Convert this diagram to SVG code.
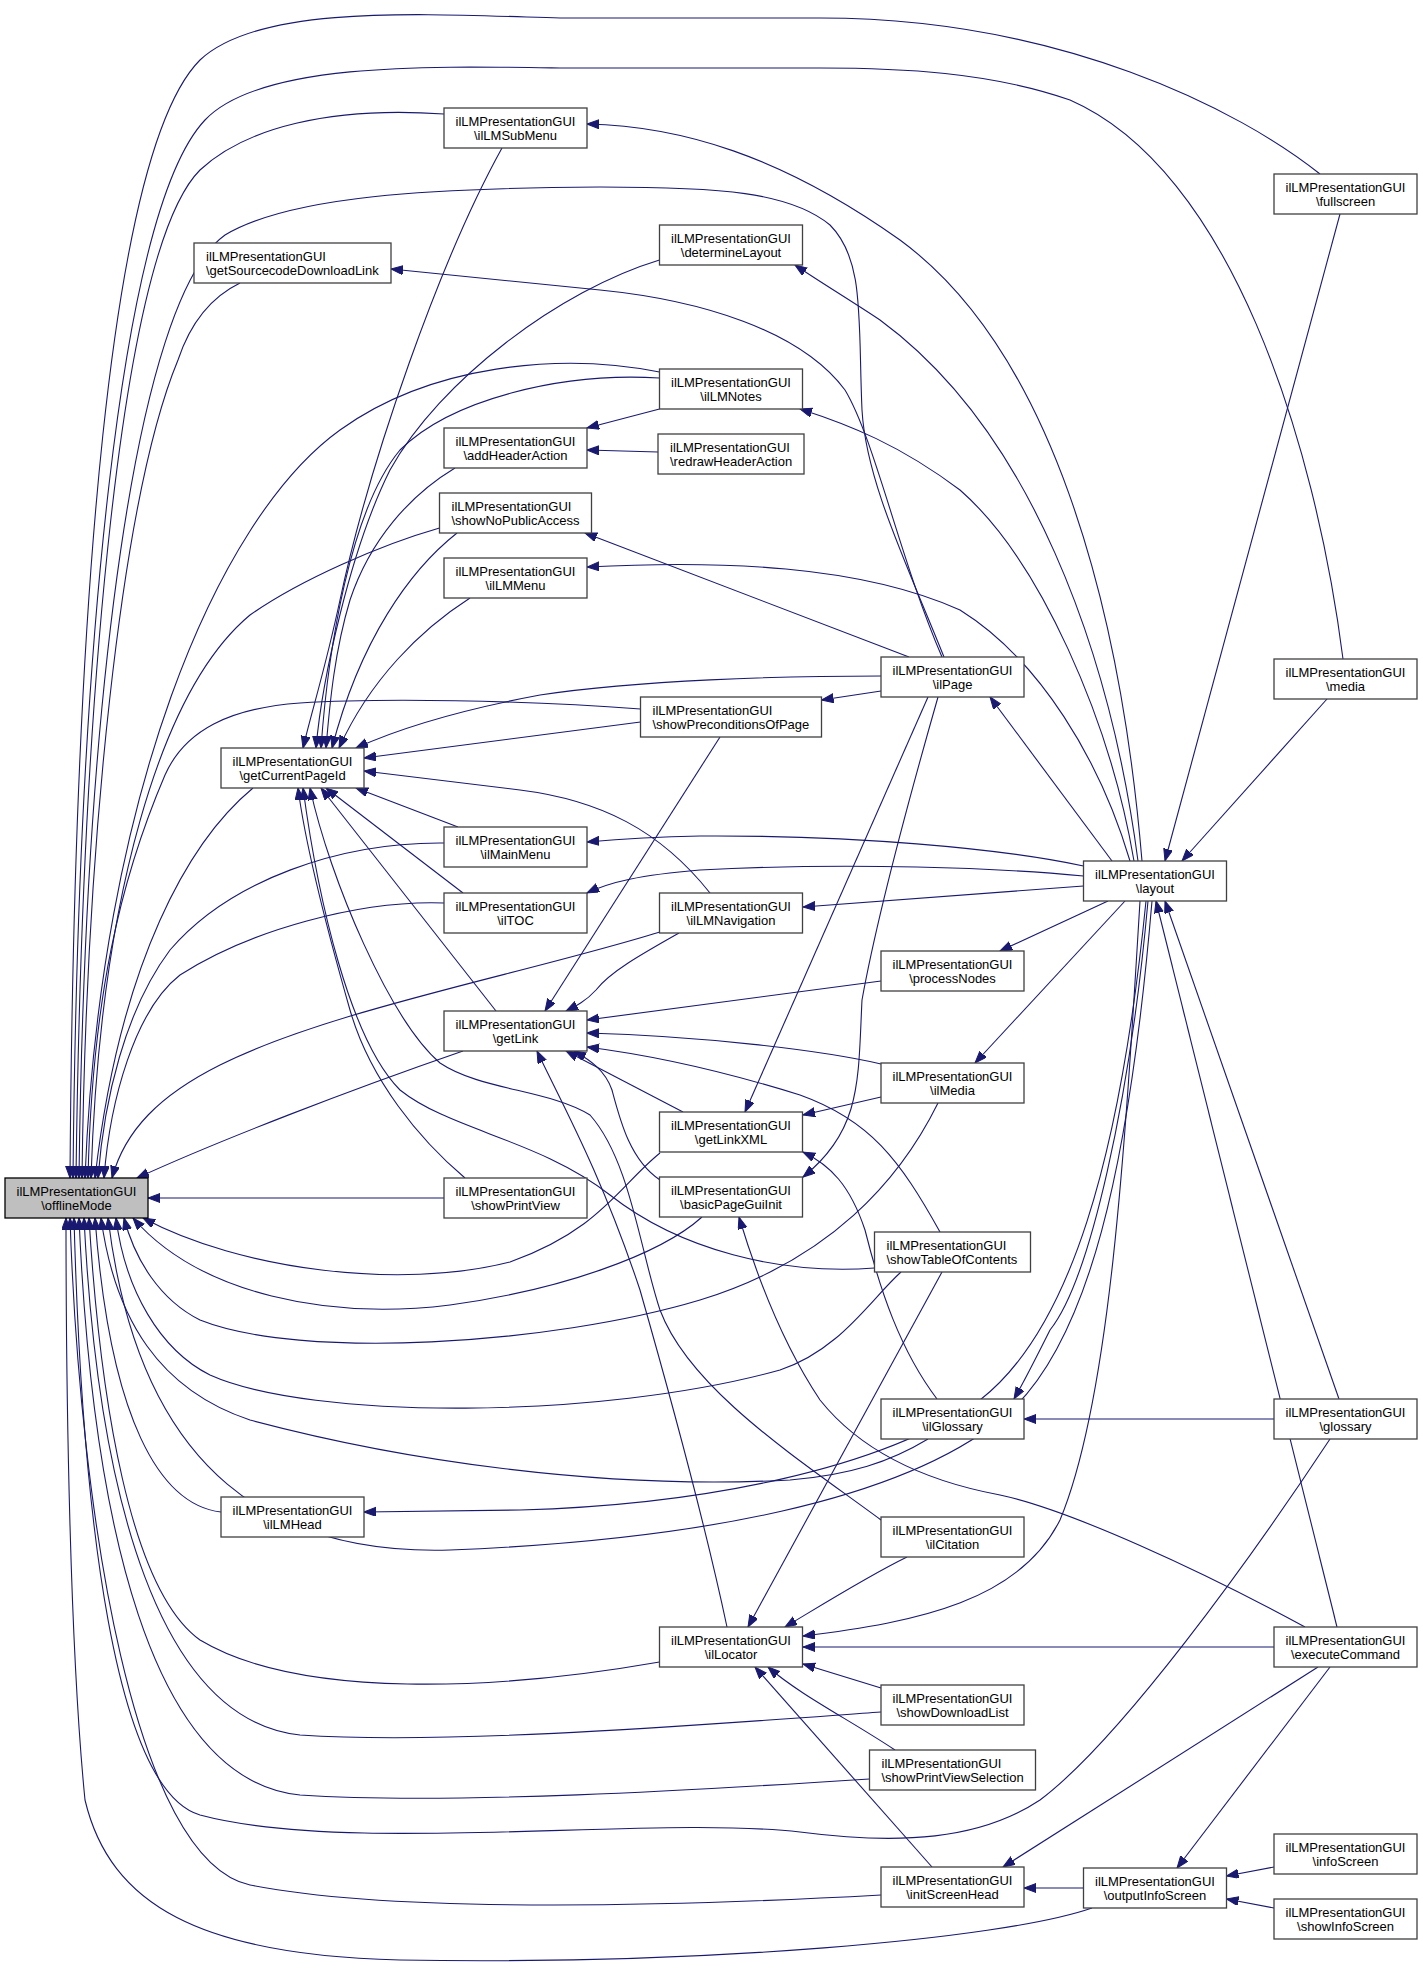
<svg xmlns="http://www.w3.org/2000/svg" width="1423" height="1970" viewBox="0 0 1423 1970">
<defs>
<style>
.n rect{fill:#fff;stroke:#404040;stroke-width:1.3}
.root rect{fill:#bfbfbf;stroke:#000;stroke-width:1.3}
.n text{font-family:"Liberation Sans",Arial,Helvetica,sans-serif;font-size:13px;fill:#000}
.c text{text-anchor:middle}
.e path{fill:none;stroke:#191970;stroke-width:1.1;marker-end:url(#ah)}
</style>
<marker id="ah" markerUnits="userSpaceOnUse" markerWidth="13" markerHeight="10" refX="12" refY="4.5" orient="auto">
<path d="M0,0 L12,4.5 L0,9 z" fill="#191970" stroke="#191970" stroke-width="1"/>
</marker>
</defs>
<rect x="0" y="0" width="1423" height="1970" fill="#fff"/>
<g id="edges" class="e">
<path d="M1320,174 C1240,110 1060,18 820,18 L560,18 C420,14 260,4 200,60 C110,150 74,600 70,1178"/>
<path d="M1343,659 C1315,440 1230,170 1070,100 C990,72 900,68 820,68 L560,68 C430,66 260,62 205,120 C120,210 78,650 73,1178"/>
<path d="M444,114 C330,106 245,128 200,170 C120,250 82,700 76,1178"/>
<path d="M944,657 C905,560 866,480 862,410 C858,320 865,260 830,225 C790,192 720,187 600,187 C430,188 290,196 225,235 C135,300 85,700 79,1178"/>
<path d="M240,283 C205,300 188,330 178,360 C120,500 86,850 82,1178"/>
<path d="M659.5,372 C560,352 430,365 340,430 C215,520 100,800 85,1178"/>
<path d="M640.5,709 C520,700 380,698 300,703 C230,708 185,730 165,775 C120,880 92,1000 88,1178"/>
<path d="M253,788 C190,840 120,960 95,1178"/>
<path d="M439.5,528 C380,545 300,580 250,615 C160,690 100,900 91,1178"/>
<path d="M444,843 C340,842 230,880 170,950 C125,1010 104,1100 98,1178"/>
<path d="M444,903 C360,900 250,930 180,975 C135,1010 110,1100 104,1178"/>
<path d="M660,932 C520,975 330,1010 220,1065 C160,1095 125,1130 112,1178"/>
<path d="M463,1051 C350,1090 220,1140 137,1178"/>
<path d="M444,1198 L148,1198"/>
<path d="M660,1153 C620,1185 600,1230 510,1262 C400,1290 240,1270 143,1218"/>
<path d="M702,1217 C660,1255 560,1290 450,1305 C330,1320 200,1295 133,1218"/>
<path d="M938,1103 C900,1180 830,1260 700,1300 C550,1345 300,1360 200,1320 C160,1300 135,1260 124,1218"/>
<path d="M901,1272 C870,1300 840,1350 780,1370 C600,1420 310,1420 210,1375 C160,1350 125,1290 116,1218"/>
<path d="M1152,901 C1130,1160 1090,1350 1000,1420 C900,1500 700,1540 450,1550 C280,1555 140,1480 108,1218"/>
<path d="M928,1439 C890,1462 850,1475 790,1480 C600,1490 400,1460 250,1420 C160,1390 115,1320 101,1218"/>
<path d="M221,1512 C160,1505 110,1420 95,1218"/>
<path d="M659.5,1662 C500,1690 300,1700 200,1640 C130,1590 100,1400 89,1218"/>
<path d="M881,1712 C700,1725 450,1745 300,1735 C160,1720 98,1500 84,1218"/>
<path d="M869.5,1779 C700,1790 450,1805 300,1795 C150,1780 92,1520 79,1218"/>
<path d="M1330,1439 C1250,1560 1120,1740 1040,1800 C980,1840 900,1845 800,1832 C650,1815 350,1855 200,1815 C115,1790 82,1520 74,1218"/>
<path d="M881,1895 C700,1905 400,1915 250,1885 C135,1860 80,1520 70,1218"/>
<path d="M1092,1908 C1000,1940 700,1965 400,1960 C200,1955 110,1905 85,1800 C70,1650 66,1400 66,1218"/>
<path d="M502,148 C440,260 370,460 340,600 C325,670 312,710 303,748"/>
<path d="M659.5,260 C560,290 440,380 390,470 C350,550 322,680 316,748"/>
<path d="M659.5,378 C560,372 450,400 400,450 C350,510 328,650 321,748"/>
<path d="M455,468 C410,495 370,540 350,600 C335,650 330,700 326,748"/>
<path d="M457,533 C410,570 360,640 332,748"/>
<path d="M470,598 C420,630 370,680 339,748"/>
<path d="M881,676 C780,676 640,680 540,695 C460,710 400,728 356,748"/>
<path d="M640.5,722 L364,758"/>
<path d="M710,893 C660,830 600,800 520,790 C450,781 400,775 364,771"/>
<path d="M458,827 L356,788"/>
<path d="M463,893 L326,788"/>
<path d="M496,1011 L321,788"/>
<path d="M465,1178 C420,1140 370,1080 350,1010 C330,940 306,850 298,788"/>
<path d="M874.5,1268 C780,1275 680,1250 610,1195 C540,1140 450,1130 400,1090 C350,1040 318,900 303,788"/>
<path d="M881,1520 C800,1460 690,1390 660,1310 C640,1250 630,1160 590,1115 C550,1090 480,1090 440,1063 C390,1020 330,880 310,788"/>
<path d="M720,737 L545,1011"/>
<path d="M679,933 C640,955 610,972 596,990 C586,1001 576,1006 566,1011"/>
<path d="M881,981 L587,1020"/>
<path d="M881,1064 C820,1050 700,1036 587,1033"/>
<path d="M940,1232 C900,1160 870,1120 800,1095 C720,1070 650,1055 587,1047"/>
<path d="M683,1112 L566,1051"/>
<path d="M660,1180 C630,1160 620,1120 612,1090 C605,1070 590,1060 574,1051"/>
<path d="M727,1627 C700,1500 660,1360 640,1290 C600,1170 560,1100 537,1051"/>
<path d="M928,697 L745,1112"/>
<path d="M881,1097 L803,1115"/>
<path d="M937,1399 C900,1350 880,1290 865,1230 C850,1185 830,1165 803,1152"/>
<path d="M938,697 C920,760 880,900 862,1000 C858,1080 862,1130 803,1177"/>
<path d="M1305,1627 C1200,1570 1070,1510 1000,1495 C920,1480 860,1450 820,1400 C780,1340 755,1270 739,1217"/>
<path d="M942,1272 L748,1627"/>
<path d="M907,1557 C870,1575 830,1600 785,1627"/>
<path d="M1140,901 C1125,1150 1110,1400 1060,1520 C1020,1600 920,1622 803,1636"/>
<path d="M1274,1647 L803,1647"/>
<path d="M881,1688 L803,1664"/>
<path d="M932,1867 L755,1667"/>
<path d="M895,1750 C850,1720 800,1695 768,1667"/>
<path d="M1318,1667 L1003,1867"/>
<path d="M1083.5,1888 L1024,1888"/>
<path d="M1330,1667 L1177,1868"/>
<path d="M1274,1867 L1226.5,1876"/>
<path d="M1274,1908 L1226.5,1899"/>
<path d="M1340,214 L1165,861"/>
<path d="M1327,699 L1182,861"/>
<path d="M1339,1399 L1165,901"/>
<path d="M1337,1627 L1156,901"/>
<path d="M1142,861 C1120,600 1050,350 900,240 C780,155 680,126 587,124"/>
<path d="M1138,861 C1110,650 1030,430 880,320 C850,300 820,282 795,265"/>
<path d="M1134,861 C1110,720 1040,560 960,490 C900,445 850,425 800,409"/>
<path d="M1130,861 C1100,760 1040,660 960,610 C860,565 720,560 587,567"/>
<path d="M1112,861 L990,697"/>
<path d="M1083.5,866 C1000,848 850,835 700,836 C650,837 610,840 587,842"/>
<path d="M1083.5,876 C1000,868 850,862 700,870 C640,875 610,882 587,893"/>
<path d="M1083.5,886 L803,907"/>
<path d="M1108,901 L1000,951"/>
<path d="M1125,901 L975,1063"/>
<path d="M1148,901 C1130,1100 1090,1280 1050,1330 C1035,1360 1025,1380 1014,1399"/>
<path d="M1146,901 C1120,1160 1070,1330 980,1400 C880,1470 700,1505 520,1510 L364,1512"/>
<path d="M659.5,409 L587,428"/>
<path d="M658,452 L587,450"/>
<path d="M942,657 C900,560 875,440 845,390 C800,330 700,300 600,290 C520,282 450,275 391,269"/>
<path d="M909,657 L585,533"/>
<path d="M881,691 L821.5,700"/>
<path d="M1274,1419 L1024,1419"/>
</g>
<g id="n_offlineMode" class="n root c"><rect x="5" y="1178" width="143" height="40"/><text x="76.5" y="1195.5">ilLMPresentationGUI</text><text x="76.5" y="1209.5">\offlineMode</text></g>
<g id="n_getCurrentPageId" class="n c"><rect x="221" y="748" width="143" height="40"/><text x="292.5" y="765.5">ilLMPresentationGUI</text><text x="292.5" y="779.5">\getCurrentPageId</text></g>
<g id="n_ilLMHead" class="n c"><rect x="221" y="1497" width="143" height="40"/><text x="292.5" y="1514.5">ilLMPresentationGUI</text><text x="292.5" y="1528.5">\ilLMHead</text></g>
<g id="n_getSourcecodeDownloadLink" class="n"><rect x="194" y="243" width="197" height="40"/><text x="206" y="260.5">ilLMPresentationGUI</text><text x="206" y="274.5">\getSourcecodeDownloadLink</text></g>
<g id="n_ilLMSubMenu" class="n c"><rect x="444" y="108" width="143" height="40"/><text x="515.5" y="125.5">ilLMPresentationGUI</text><text x="515.5" y="139.5">\ilLMSubMenu</text></g>
<g id="n_addHeaderAction" class="n c"><rect x="444" y="428" width="143" height="40"/><text x="515.5" y="445.5">ilLMPresentationGUI</text><text x="515.5" y="459.5">\addHeaderAction</text></g>
<g id="n_showNoPublicAccess" class="n"><rect x="439.5" y="493" width="152" height="40"/><text x="451.5" y="510.5">ilLMPresentationGUI</text><text x="451.5" y="524.5">\showNoPublicAccess</text></g>
<g id="n_ilLMMenu" class="n c"><rect x="444" y="558" width="143" height="40"/><text x="515.5" y="575.5">ilLMPresentationGUI</text><text x="515.5" y="589.5">\ilLMMenu</text></g>
<g id="n_ilMainMenu" class="n c"><rect x="444" y="827" width="143" height="40"/><text x="515.5" y="844.5">ilLMPresentationGUI</text><text x="515.5" y="858.5">\ilMainMenu</text></g>
<g id="n_ilTOC" class="n c"><rect x="444" y="893" width="143" height="40"/><text x="515.5" y="910.5">ilLMPresentationGUI</text><text x="515.5" y="924.5">\ilTOC</text></g>
<g id="n_getLink" class="n c"><rect x="444" y="1011" width="143" height="40"/><text x="515.5" y="1028.5">ilLMPresentationGUI</text><text x="515.5" y="1042.5">\getLink</text></g>
<g id="n_showPrintView" class="n c"><rect x="444" y="1178" width="143" height="40"/><text x="515.5" y="1195.5">ilLMPresentationGUI</text><text x="515.5" y="1209.5">\showPrintView</text></g>
<g id="n_determineLayout" class="n c"><rect x="659.5" y="225" width="143" height="40"/><text x="731" y="242.5">ilLMPresentationGUI</text><text x="731" y="256.5">\determineLayout</text></g>
<g id="n_ilLMNotes" class="n c"><rect x="659.5" y="369" width="143" height="40"/><text x="731" y="386.5">ilLMPresentationGUI</text><text x="731" y="400.5">\ilLMNotes</text></g>
<g id="n_redrawHeaderAction" class="n"><rect x="658" y="434" width="146" height="40"/><text x="670" y="451.5">ilLMPresentationGUI</text><text x="670" y="465.5">\redrawHeaderAction</text></g>
<g id="n_showPreconditionsOfPage" class="n"><rect x="640.5" y="697" width="181" height="40"/><text x="652.5" y="714.5">ilLMPresentationGUI</text><text x="652.5" y="728.5">\showPreconditionsOfPage</text></g>
<g id="n_ilLMNavigation" class="n c"><rect x="659.5" y="893" width="143" height="40"/><text x="731" y="910.5">ilLMPresentationGUI</text><text x="731" y="924.5">\ilLMNavigation</text></g>
<g id="n_getLinkXML" class="n c"><rect x="659.5" y="1112" width="143" height="40"/><text x="731" y="1129.5">ilLMPresentationGUI</text><text x="731" y="1143.5">\getLinkXML</text></g>
<g id="n_basicPageGuiInit" class="n c"><rect x="659.5" y="1177" width="143" height="40"/><text x="731" y="1194.5">ilLMPresentationGUI</text><text x="731" y="1208.5">\basicPageGuiInit</text></g>
<g id="n_ilLocator" class="n c"><rect x="659.5" y="1627" width="143" height="40"/><text x="731" y="1644.5">ilLMPresentationGUI</text><text x="731" y="1658.5">\ilLocator</text></g>
<g id="n_ilPage" class="n c"><rect x="881" y="657" width="143" height="40"/><text x="952.5" y="674.5">ilLMPresentationGUI</text><text x="952.5" y="688.5">\ilPage</text></g>
<g id="n_processNodes" class="n c"><rect x="881" y="951" width="143" height="40"/><text x="952.5" y="968.5">ilLMPresentationGUI</text><text x="952.5" y="982.5">\processNodes</text></g>
<g id="n_ilMedia" class="n c"><rect x="881" y="1063" width="143" height="40"/><text x="952.5" y="1080.5">ilLMPresentationGUI</text><text x="952.5" y="1094.5">\ilMedia</text></g>
<g id="n_showTableOfContents" class="n"><rect x="874.5" y="1232" width="156" height="40"/><text x="886.5" y="1249.5">ilLMPresentationGUI</text><text x="886.5" y="1263.5">\showTableOfContents</text></g>
<g id="n_ilGlossary" class="n c"><rect x="881" y="1399" width="143" height="40"/><text x="952.5" y="1416.5">ilLMPresentationGUI</text><text x="952.5" y="1430.5">\ilGlossary</text></g>
<g id="n_ilCitation" class="n c"><rect x="881" y="1517" width="143" height="40"/><text x="952.5" y="1534.5">ilLMPresentationGUI</text><text x="952.5" y="1548.5">\ilCitation</text></g>
<g id="n_showDownloadList" class="n c"><rect x="881" y="1685" width="143" height="40"/><text x="952.5" y="1702.5">ilLMPresentationGUI</text><text x="952.5" y="1716.5">\showDownloadList</text></g>
<g id="n_showPrintViewSelection" class="n"><rect x="869.5" y="1750" width="166" height="40"/><text x="881.5" y="1767.5">ilLMPresentationGUI</text><text x="881.5" y="1781.5">\showPrintViewSelection</text></g>
<g id="n_initScreenHead" class="n c"><rect x="881" y="1867" width="143" height="40"/><text x="952.5" y="1884.5">ilLMPresentationGUI</text><text x="952.5" y="1898.5">\initScreenHead</text></g>
<g id="n_layout" class="n c"><rect x="1083.5" y="861" width="143" height="40"/><text x="1155" y="878.5">ilLMPresentationGUI</text><text x="1155" y="892.5">\layout</text></g>
<g id="n_outputInfoScreen" class="n c"><rect x="1083.5" y="1868" width="143" height="40"/><text x="1155" y="1885.5">ilLMPresentationGUI</text><text x="1155" y="1899.5">\outputInfoScreen</text></g>
<g id="n_fullscreen" class="n c"><rect x="1274" y="174" width="143" height="40"/><text x="1345.5" y="191.5">ilLMPresentationGUI</text><text x="1345.5" y="205.5">\fullscreen</text></g>
<g id="n_media" class="n c"><rect x="1274" y="659" width="143" height="40"/><text x="1345.5" y="676.5">ilLMPresentationGUI</text><text x="1345.5" y="690.5">\media</text></g>
<g id="n_glossary" class="n c"><rect x="1274" y="1399" width="143" height="40"/><text x="1345.5" y="1416.5">ilLMPresentationGUI</text><text x="1345.5" y="1430.5">\glossary</text></g>
<g id="n_executeCommand" class="n c"><rect x="1274" y="1627" width="143" height="40"/><text x="1345.5" y="1644.5">ilLMPresentationGUI</text><text x="1345.5" y="1658.5">\executeCommand</text></g>
<g id="n_infoScreen" class="n c"><rect x="1274" y="1834" width="143" height="40"/><text x="1345.5" y="1851.5">ilLMPresentationGUI</text><text x="1345.5" y="1865.5">\infoScreen</text></g>
<g id="n_showInfoScreen" class="n c"><rect x="1274" y="1899" width="143" height="40"/><text x="1345.5" y="1916.5">ilLMPresentationGUI</text><text x="1345.5" y="1930.5">\showInfoScreen</text></g>
</svg>
